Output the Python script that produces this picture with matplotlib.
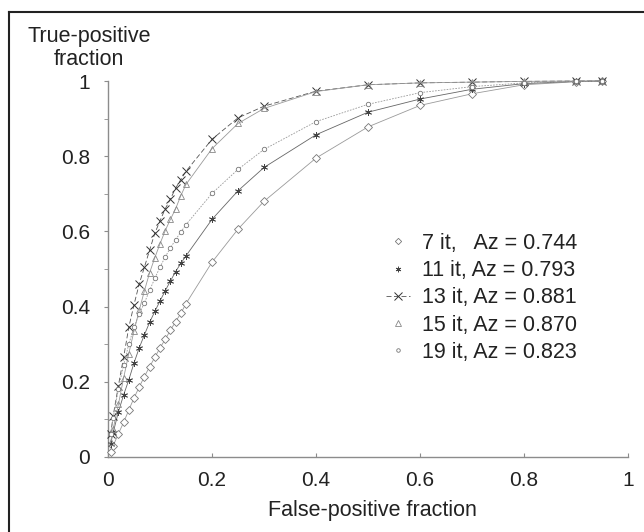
import matplotlib
matplotlib.use("Agg")
import matplotlib.pyplot as plt
from matplotlib.lines import Line2D

plt.rcParams['font.family'] = ['Liberation Sans', 'DejaVu Sans']

# False-positive fraction at which each curve is sampled
fpf = [0.005, 0.01, 0.02, 0.03, 0.04, 0.05, 0.06, 0.07, 0.08, 0.09, 0.10,
       0.11, 0.12, 0.13, 0.14, 0.15, 0.20, 0.25, 0.30, 0.40, 0.50, 0.60,
       0.70, 0.80, 0.90, 0.95]

tpf_7 = [0.014, 0.030, 0.062, 0.092, 0.125, 0.157, 0.186, 0.214, 0.240, 0.265,
         0.290, 0.313, 0.337, 0.360, 0.382, 0.408, 0.518, 0.606, 0.680, 0.795,
         0.878, 0.935, 0.966, 0.990, 0.998, 1.000]
tpf_11 = [0.035, 0.065, 0.120, 0.165, 0.205, 0.250, 0.290, 0.325, 0.358, 0.387,
          0.415, 0.442, 0.468, 0.493, 0.515, 0.535, 0.632, 0.708, 0.770, 0.857,
          0.917, 0.952, 0.978, 0.993, 0.999, 1.000]
tpf_13 = [0.060, 0.110, 0.190, 0.265, 0.345, 0.405, 0.460, 0.505, 0.550, 0.595,
          0.628, 0.660, 0.686, 0.715, 0.738, 0.760, 0.845, 0.902, 0.933, 0.973,
          0.990, 0.995, 0.997, 0.999, 1.000, 1.000]
tpf_15 = [0.040, 0.075, 0.140, 0.210, 0.275, 0.335, 0.390, 0.442, 0.490, 0.530,
          0.567, 0.602, 0.632, 0.660, 0.695, 0.725, 0.820, 0.887, 0.927, 0.972,
          0.990, 0.995, 0.997, 0.999, 1.000, 1.000]
tpf_19 = [0.060, 0.105, 0.180, 0.245, 0.300, 0.345, 0.380, 0.410, 0.443, 0.475,
          0.505, 0.532, 0.556, 0.578, 0.598, 0.618, 0.701, 0.765, 0.818, 0.892,
          0.938, 0.969, 0.985, 0.995, 0.999, 1.000]

labels = ["7 it,   Az = 0.744", "11 it, Az = 0.793", "13 it, Az = 0.881",
          "15 it, Az = 0.870", "19 it, Az = 0.823"]

fig = plt.figure(figsize=(6.44, 5.32), dpi=100)
ax = fig.add_axes([108/644, (532-457)/532, 520/644, 376/532])

star6 = (6, 2, 0)
styles = [
    dict(marker='D', ms=4.0, mfc='white', mec='#777777', color='#9a9a9a', ls='-', lw=0.6, mew=0.6),
    dict(marker=star6, ms=5, mfc='none', mec='#444444', color='#666666', ls='-', lw=0.6, mew=0.6),
    dict(marker='x', ms=5.5, mfc='none', mec='#333333', color='#555555', ls=(0, (6, 3)), lw=0.6, mew=0.7),
    dict(marker='^', ms=5.0, mfc='none', mec='#888888', color='#9a9a9a', ls='-', lw=0.6, mew=0.6),
    dict(marker='o', ms=3.2, mfc='white', mec='#777777', color='#999999', ls=(0, (2, 1.5)), lw=0.6, mew=0.6),
]
series = [tpf_7, tpf_11, tpf_13, tpf_15, tpf_19]
for ys, st in zip(series, styles):
    ax.plot(fpf, ys, zorder=3, clip_on=False, **st)

ax.set_xlim(0, 1)
ax.set_ylim(0, 1)
for s in ['top', 'right']:
    ax.spines[s].set_visible(False)
for s in ['left', 'bottom']:
    ax.spines[s].set_color('#8c8c8c')
    ax.spines[s].set_linewidth(1.0)

ax.set_xticks([0, 0.2, 0.4, 0.6, 0.8, 1])
ax.set_xticklabels(['0', '0.2', '0.4', '0.6', '0.8', '1'])
ax.set_yticks([0, 0.2, 0.4, 0.6, 0.8, 1])
ax.set_yticklabels(['0', '0.2', '0.4', '0.6', '0.8', '1'])
ax.set_yticks([0.1, 0.3, 0.5, 0.7, 0.9], minor=True)
ax.tick_params(axis='x', direction='in', length=3, color='#8c8c8c', labelsize=15, pad=10, labelcolor='#222222')
ax.tick_params(axis='y', which='both', direction='out', length=3, color='#8c8c8c', labelsize=15, pad=10, labelcolor='#222222')

fig.text(372/644, 1 - 516/532, 'False-positive fraction', ha='center', va='baseline',
         fontsize=15.5, color='#222222')
fig.text(89/644, 1 - 26/532, 'True-positive\nfraction', ha='center', va='top',
         fontsize=15.5, color='#222222', linespacing=1.15)

handles = []
for i, st in enumerate(styles):
    kw = dict(st)
    if i != 2:
        kw['ls'] = 'none'
        kw['ms'] = kw['ms'] * 0.8
    handles.append(Line2D([], [], **kw))
leg = fig.legend(handles, labels, loc='upper left', bbox_to_anchor=(386/644, 1 - 233/532),
                 frameon=False, fontsize=15.5, handlelength=1.1, handletextpad=0.55,
                 labelspacing=0.29, borderaxespad=0, borderpad=0)
for t in leg.get_texts():
    t.set_color('#222222')

# outer frame (left and top edges visible)
fig.add_artist(Line2D([9/644, 9/644], [0, 1 - 12/532], transform=fig.transFigure, color='#222222', lw=1.5))
fig.add_artist(Line2D([9/644, 1], [1 - 12/532, 1 - 12/532], transform=fig.transFigure, color='#222222', lw=1.5))

fig.savefig('out.png', dpi=100)
